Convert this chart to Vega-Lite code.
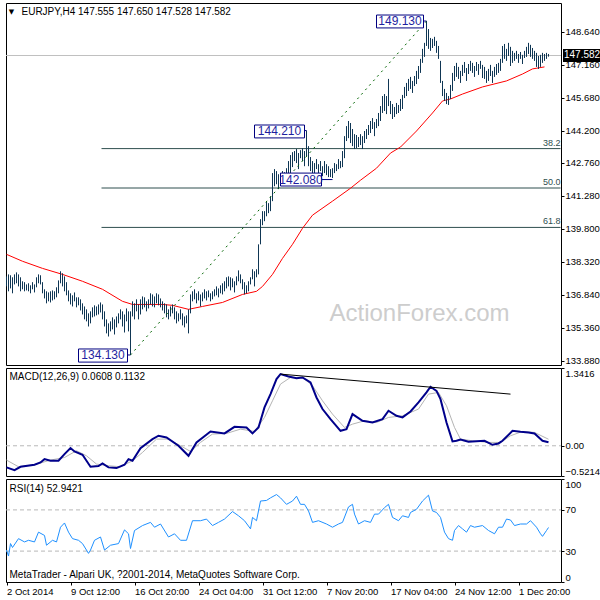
{
"$schema": "https://vega.github.io/schema/vega-lite/v6.json",
"padding": {"left": 2, "top": 2, "right": 0, "bottom": 0},
"background": "white",
"spacing": 3,
"bounds": "flush",
"config": {
 "view": {"stroke": "#000000", "strokeWidth": 1},
 "axis": {"labelFont": "Liberation Sans", "labelFontSize": 9.5, "labelColor": "#000000", "tickColor": "#000000", "domain": false, "grid": false, "labelOverlap": false, "tickSize": 3, "labelPadding": 1},
 "text": {"font": "Liberation Sans"}
},
"datasets": {
 "bars": [
{"i":0,"h":137.66,"l":137.21},{"i":1,"h":137.75,"l":136.99},{"i":2,"h":137.71,"l":137.12},{"i":3,"h":137.62,"l":136.90},{"i":4,"h":137.75,"l":137.30},{"i":5,"h":137.84,"l":137.35},{"i":6,"h":137.75,"l":137.21},{"i":7,"h":137.62,"l":136.99},{"i":8,"h":137.44,"l":137.08},{"i":9,"h":137.40,"l":136.99},
{"i":10,"h":137.30,"l":137.03},{"i":11,"h":137.35,"l":136.99},{"i":12,"h":137.26,"l":136.90},{"i":13,"h":137.40,"l":137.08},{"i":14,"h":137.30,"l":136.94},{"i":15,"h":137.62,"l":137.17},{"i":16,"h":137.75,"l":137.35},{"i":17,"h":137.71,"l":137.30},{"i":18,"h":137.40,"l":136.90},{"i":19,"h":137.08,"l":136.67},
{"i":20,"h":136.99,"l":136.45},{"i":21,"h":136.94,"l":136.54},{"i":22,"h":136.99,"l":136.49},{"i":23,"h":137.03,"l":136.58},{"i":24,"h":136.99,"l":136.63},{"i":25,"h":137.17,"l":136.72},{"i":26,"h":137.48,"l":136.90},{"i":27,"h":137.89,"l":137.35},{"i":28,"h":137.80,"l":137.21},{"i":29,"h":137.66,"l":136.99},
{"i":30,"h":137.40,"l":136.81},{"i":31,"h":137.03,"l":136.54},{"i":32,"h":136.90,"l":136.40},{"i":33,"h":136.81,"l":136.31},{"i":34,"h":136.94,"l":136.54},{"i":35,"h":136.72,"l":136.27},{"i":36,"h":136.72,"l":136.36},{"i":37,"h":136.63,"l":136.13},{"i":38,"h":136.45,"l":135.95},{"i":39,"h":136.31,"l":135.73},
{"i":40,"h":136.18,"l":135.64},{"i":41,"h":136.00,"l":135.41},{"i":42,"h":136.09,"l":135.55},{"i":43,"h":136.27,"l":135.82},{"i":44,"h":136.36,"l":135.86},{"i":45,"h":136.31,"l":135.91},{"i":46,"h":136.40,"l":135.95},{"i":47,"h":136.49,"l":136.04},{"i":48,"h":136.40,"l":135.73},{"i":49,"h":136.09,"l":135.41},
{"i":50,"h":135.73,"l":135.10},{"i":51,"h":135.55,"l":134.96},{"i":52,"h":135.64,"l":135.19},{"i":53,"h":135.82,"l":135.28},{"i":54,"h":135.73,"l":135.05},{"i":55,"h":135.86,"l":135.37},{"i":56,"h":136.00,"l":135.55},{"i":57,"h":136.18,"l":135.73},{"i":58,"h":136.09,"l":135.41},{"i":59,"h":135.95,"l":135.14},
{"i":60,"h":136.22,"l":135.64},{"i":61,"h":136.09,"l":135.19},{"i":62,"h":136.09,"l":134.13},{"i":63,"h":136.54,"l":135.86},{"i":64,"h":136.45,"l":135.73},{"i":65,"h":136.63,"l":136.09},{"i":66,"h":136.40,"l":135.73},{"i":67,"h":136.63,"l":135.95},{"i":68,"h":136.76,"l":136.18},{"i":69,"h":136.72,"l":136.27},
{"i":70,"h":136.54,"l":136.09},{"i":71,"h":136.63,"l":136.22},{"i":72,"h":136.90,"l":136.40},{"i":73,"h":136.85,"l":136.31},{"i":74,"h":136.76,"l":136.27},{"i":75,"h":136.90,"l":136.45},{"i":76,"h":136.85,"l":136.36},{"i":77,"h":136.67,"l":136.27},{"i":78,"h":136.54,"l":136.13},{"i":79,"h":136.45,"l":136.00},
{"i":80,"h":136.40,"l":135.82},{"i":81,"h":136.18,"l":135.73},{"i":82,"h":136.31,"l":135.86},{"i":83,"h":136.40,"l":136.00},{"i":84,"h":136.27,"l":135.73},{"i":85,"h":136.09,"l":135.55},{"i":86,"h":136.00,"l":135.64},{"i":87,"h":136.18,"l":135.73},{"i":88,"h":136.00,"l":135.46},{"i":89,"h":135.86,"l":135.37},
{"i":90,"h":135.91,"l":135.55},{"i":91,"h":136.18,"l":135.10},{"i":92,"h":136.85,"l":136.00},{"i":93,"h":136.99,"l":136.54},{"i":94,"h":137.08,"l":136.63},{"i":95,"h":136.90,"l":136.45},{"i":96,"h":136.99,"l":136.58},{"i":97,"h":136.85,"l":136.31},{"i":98,"h":136.94,"l":136.54},{"i":99,"h":137.08,"l":136.67},
{"i":100,"h":136.99,"l":136.58},{"i":101,"h":137.03,"l":136.72},{"i":102,"h":136.90,"l":136.54},{"i":103,"h":136.99,"l":136.63},{"i":104,"h":137.08,"l":136.76},{"i":105,"h":137.21,"l":136.81},{"i":106,"h":137.12,"l":136.72},{"i":107,"h":137.26,"l":136.90},{"i":108,"h":137.35,"l":136.85},{"i":109,"h":137.44,"l":136.99},
{"i":110,"h":137.62,"l":137.12},{"i":111,"h":137.66,"l":137.21},{"i":112,"h":137.62,"l":137.03},{"i":113,"h":137.57,"l":137.17},{"i":114,"h":137.44,"l":136.94},{"i":115,"h":137.66,"l":137.26},{"i":116,"h":137.93,"l":137.44},{"i":117,"h":137.75,"l":137.35},{"i":118,"h":137.53,"l":137.08},{"i":119,"h":137.40,"l":136.85},
{"i":120,"h":137.26,"l":136.90},{"i":121,"h":137.44,"l":136.99},{"i":122,"h":137.62,"l":137.30},{"i":123,"h":137.98,"l":137.53},{"i":124,"h":137.89,"l":137.21},{"i":125,"h":137.98,"l":137.62},{"i":126,"h":139.10,"l":137.75},{"i":127,"h":140.23,"l":139.10},{"i":128,"h":140.59,"l":139.96},{"i":129,"h":140.59,"l":140.14},
{"i":130,"h":141.04,"l":140.36},{"i":131,"h":140.95,"l":140.50},{"i":132,"h":141.26,"l":140.59},{"i":133,"h":142.30,"l":141.04},{"i":134,"h":142.48,"l":141.71},{"i":135,"h":142.39,"l":141.80},{"i":136,"h":142.25,"l":141.58},{"i":137,"h":142.30,"l":141.94},{"i":138,"h":142.39,"l":142.03},{"i":139,"h":142.34,"l":141.85},
{"i":140,"h":142.52,"l":141.94},{"i":141,"h":142.84,"l":142.07},{"i":142,"h":143.11,"l":142.30},{"i":143,"h":143.24,"l":142.57},{"i":144,"h":143.29,"l":142.84},{"i":145,"h":143.38,"l":142.75},{"i":146,"h":143.20,"l":142.48},{"i":147,"h":143.33,"l":142.97},{"i":148,"h":143.42,"l":142.84},{"i":149,"h":143.29,"l":142.61},
{"i":150,"h":144.21,"l":143.06},{"i":151,"h":143.51,"l":142.61},{"i":152,"h":143.02,"l":142.39},{"i":153,"h":142.84,"l":142.16},{"i":154,"h":142.75,"l":142.25},{"i":155,"h":142.93,"l":142.48},{"i":156,"h":142.70,"l":142.12},{"i":157,"h":142.84,"l":142.39},{"i":158,"h":142.61,"l":142.16},{"i":159,"h":142.84,"l":142.30},
{"i":160,"h":142.70,"l":142.21},{"i":161,"h":142.61,"l":142.12},{"i":162,"h":142.48,"l":142.12},{"i":163,"h":142.52,"l":142.08},{"i":164,"h":142.75,"l":142.30},{"i":165,"h":142.70,"l":142.39},{"i":166,"h":142.93,"l":142.48},{"i":167,"h":142.84,"l":142.52},{"i":168,"h":143.29,"l":142.57},{"i":169,"h":143.96,"l":142.97},
{"i":170,"h":144.41,"l":143.74},{"i":171,"h":144.64,"l":143.87},{"i":172,"h":144.55,"l":143.65},{"i":173,"h":144.28,"l":143.51},{"i":174,"h":144.05,"l":143.38},{"i":175,"h":144.01,"l":143.42},{"i":176,"h":143.92,"l":143.47},{"i":177,"h":144.05,"l":143.56},{"i":178,"h":143.96,"l":143.38},{"i":179,"h":144.19,"l":143.65},
{"i":180,"h":144.28,"l":143.83},{"i":181,"h":144.46,"l":144.01},{"i":182,"h":144.64,"l":144.10},{"i":183,"h":144.77,"l":144.28},{"i":184,"h":144.59,"l":143.96},{"i":185,"h":144.73,"l":144.32},{"i":186,"h":145.00,"l":144.41},{"i":187,"h":145.31,"l":144.64},{"i":188,"h":145.76,"l":145.00},{"i":189,"h":145.85,"l":145.09},
{"i":190,"h":145.76,"l":144.95},{"i":191,"h":146.53,"l":145.31},{"i":192,"h":145.54,"l":144.95},{"i":193,"h":145.40,"l":144.73},{"i":194,"h":145.27,"l":144.82},{"i":195,"h":145.45,"l":144.95},{"i":196,"h":145.36,"l":145.00},{"i":197,"h":145.63,"l":145.09},{"i":198,"h":145.81,"l":145.18},{"i":199,"h":146.17,"l":145.67},
{"i":200,"h":146.35,"l":145.76},{"i":201,"h":146.53,"l":145.99},{"i":202,"h":146.62,"l":146.08},{"i":203,"h":146.44,"l":145.90},{"i":204,"h":146.66,"l":146.21},{"i":205,"h":146.89,"l":146.30},{"i":206,"h":147.11,"l":146.53},{"i":207,"h":147.43,"l":146.80},{"i":208,"h":147.88,"l":147.25},{"i":209,"h":148.15,"l":147.52},
{"i":210,"h":149.13,"l":148.01},{"i":211,"h":148.77,"l":147.88},{"i":212,"h":148.37,"l":147.79},{"i":213,"h":148.33,"l":147.92},{"i":214,"h":148.42,"l":148.01},{"i":215,"h":148.24,"l":147.70},{"i":216,"h":148.01,"l":147.43},{"i":217,"h":147.34,"l":146.35},{"i":218,"h":146.44,"l":145.76},{"i":219,"h":146.08,"l":145.54},
{"i":220,"h":145.90,"l":145.40},{"i":221,"h":145.76,"l":145.36},{"i":222,"h":146.26,"l":145.63},{"i":223,"h":146.80,"l":145.99},{"i":224,"h":147.11,"l":146.44},{"i":225,"h":147.25,"l":146.62},{"i":226,"h":147.07,"l":146.53},{"i":227,"h":146.89,"l":146.35},{"i":228,"h":147.16,"l":146.66},{"i":229,"h":147.29,"l":146.80},
{"i":230,"h":147.02,"l":146.44},{"i":231,"h":147.20,"l":146.75},{"i":232,"h":147.34,"l":146.89},{"i":233,"h":147.25,"l":146.80},{"i":234,"h":147.11,"l":146.62},{"i":235,"h":147.29,"l":146.89},{"i":236,"h":147.20,"l":146.71},{"i":237,"h":147.34,"l":146.98},{"i":238,"h":147.16,"l":146.57},{"i":239,"h":147.07,"l":146.53},
{"i":240,"h":146.89,"l":146.35},{"i":241,"h":146.98,"l":146.44},{"i":242,"h":147.16,"l":146.66},{"i":243,"h":146.89,"l":146.35},{"i":244,"h":147.07,"l":146.62},{"i":245,"h":147.20,"l":146.71},{"i":246,"h":147.25,"l":146.80},{"i":247,"h":147.43,"l":146.89},{"i":248,"h":148.01,"l":147.25},{"i":249,"h":148.10,"l":147.43},
{"i":250,"h":147.88,"l":147.34},{"i":251,"h":148.15,"l":147.56},{"i":252,"h":147.97,"l":147.11},{"i":253,"h":147.79,"l":147.25},{"i":254,"h":147.70,"l":147.34},{"i":255,"h":147.79,"l":147.43},{"i":256,"h":147.65,"l":147.25},{"i":257,"h":147.74,"l":147.43},{"i":258,"h":147.61,"l":147.20},{"i":259,"h":147.79,"l":147.47},
{"i":260,"h":147.97,"l":147.52},{"i":261,"h":148.15,"l":147.65},{"i":262,"h":148.06,"l":147.52},{"i":263,"h":147.92,"l":147.43},{"i":264,"h":147.79,"l":147.34},{"i":265,"h":147.70,"l":147.07},{"i":266,"h":147.56,"l":146.98},{"i":267,"h":147.61,"l":147.07},{"i":268,"h":147.70,"l":147.25},{"i":269,"h":147.65,"l":147.34},
{"i":270,"h":147.70,"l":147.43},{"i":271,"h":147.65,"l":147.53}
 ],
 "ma": [
{"i":0,"v":138.65},{"i":8,"v":138.34},{"i":18,"v":138.02},{"i":28,"v":137.75},{"i":38,"v":137.44},{"i":48,"v":137.08},{"i":58,"v":136.54},{"i":63,"v":136.40},{"i":78,"v":136.40},{"i":83,"v":136.36},{"i":91,"v":136.18},{"i":98,"v":136.31},{"i":108,"v":136.49},{"i":118,"v":136.85},{"i":125,"v":136.99},{"i":128,"v":137.21},{"i":133,"v":137.75},{"i":138,"v":138.47},{"i":143,"v":139.10},{"i":148,"v":139.82},{"i":153,"v":140.41},{"i":163,"v":141.04},{"i":172,"v":141.62},{"i":177,"v":141.98},{"i":185,"v":142.52},{"i":192,"v":143.20},{"i":197,"v":143.47},{"i":205,"v":144.19},{"i":213,"v":145.00},{"i":218,"v":145.54},{"i":222,"v":145.63},{"i":228,"v":145.85},{"i":238,"v":146.17},{"i":250,"v":146.44},{"i":258,"v":146.75},{"i":263,"v":146.98},{"i":269,"v":147.07}
 ],
 "trend": [{"i":62,"p":134.13},{"i":210,"p":149.13}],
 "fib": [
  {"t":"38.2","a":47.5,"b":277,"v":143.40},
  {"t":"50.0","a":47.5,"b":277,"v":141.63},
  {"t":"61.8","a":47.5,"b":277,"v":139.86}
 ],
 "cur": [{"a":-0.25,"b":277.25,"p":147.582,"t":"147.582","bx":278.25,"bx2":297.5,"lo":147.29,"hi":147.87,"tx":278.75}],
 "lbl": [
  {"t":"134.130","a":36,"b":60.5,"lo":133.81,"hi":134.40,"c":48.25,"m":134.11,"k":62,"p":134.13},
  {"t":"149.130","a":185,"b":208.5,"lo":148.82,"hi":149.40,"c":196.75,"m":149.11,"k":210,"p":149.13},
  {"t":"144.210","a":124,"b":149,"lo":143.88,"hi":144.46,"c":136.5,"m":144.17,"k":150,"p":144.21},
  {"t":"142.080","a":137,"b":157.5,"lo":141.72,"hi":142.30,"c":147.25,"m":142.01,"k":163,"p":142.01}
 ],
 "wm": [{"i":206.5,"p":135.97,"t":"ActionForex.com"}],
 "tri": [{"i":2.5,"p":149.54,"t":"▼"}],
 "ttl": [{"i":7.5,"p":149.54,"t":"EURJPY,H4  147.555 147.650 147.528 147.582"}],
 "macd": [
{"i":0,"m":-0.373},{"i":4,"m":-0.420},{"i":7,"m":-0.362},{"i":14,"m":-0.327},{"i":17,"m":-0.287},{"i":19,"m":-0.230},{"i":22,"m":-0.258},{"i":26,"m":-0.258},{"i":29,"m":-0.144},{"i":32,"m":-0.040},{"i":34,"m":-0.098},{"i":38,"m":-0.156},{"i":42,"m":-0.362},{"i":46,"m":-0.350},{"i":48,"m":-0.304},{"i":51,"m":-0.373},{"i":55,"m":-0.385},{"i":59,"m":-0.327},{"i":61,"m":-0.230},{"i":63,"m":-0.258},{"i":67,"m":-0.040},{"i":73,"m":0.115},{"i":76,"m":0.173},{"i":80,"m":0.144},{"i":86,"m":0.000},{"i":91,"m":-0.173},{"i":95,"m":0.058},{"i":102,"m":0.247},{"i":109,"m":0.213},{"i":114,"m":0.327},{"i":120,"m":0.316},{"i":123,"m":0.213},{"i":126,"m":0.316},{"i":129,"m":0.661},{"i":132,"m":0.891},{"i":135,"m":1.150},{"i":137,"m":1.236},{"i":141,"m":1.196},{"i":145,"m":1.167},{"i":148,"m":1.179},{"i":152,"m":1.092},{"i":155,"m":0.833},{"i":158,"m":0.633},{"i":162,"m":0.460},{"i":167,"m":0.258},{"i":170,"m":0.287},{"i":173,"m":0.546},{"i":178,"m":0.431},{"i":183,"m":0.402},{"i":188,"m":0.460},{"i":191,"m":0.604},{"i":195,"m":0.517},{"i":198,"m":0.489},{"i":202,"m":0.592},{"i":206,"m":0.747},{"i":210,"m":0.920},{"i":212,"m":1.018},{"i":215,"m":0.948},{"i":217,"m":0.804},{"i":220,"m":0.402},{"i":223,"m":0.075},{"i":225,"m":0.086},{"i":227,"m":0.109},{"i":231,"m":0.069},{"i":239,"m":0.086},{"i":243,"m":0.017},{"i":246,"m":0.040},{"i":248,"m":0.086},{"i":253,"m":0.258},{"i":257,"m":0.241},{"i":261,"m":0.230},{"i":264,"m":0.213},{"i":268,"m":0.086},{"i":271,"m":0.061}
 ],
 "sig": [
{"i":0,"s":-0.247},{"i":6,"s":-0.362},{"i":14,"s":-0.327},{"i":22,"s":-0.247},{"i":29,"s":-0.202},{"i":35,"s":-0.086},{"i":40,"s":-0.173},{"i":45,"s":-0.316},{"i":51,"s":-0.345},{"i":57,"s":-0.362},{"i":63,"s":-0.258},{"i":68,"s":-0.115},{"i":75,"s":0.115},{"i":81,"s":0.115},{"i":87,"s":0.000},{"i":92,"s":-0.098},{"i":97,"s":0.058},{"i":103,"s":0.202},{"i":110,"s":0.213},{"i":117,"s":0.287},{"i":124,"s":0.247},{"i":129,"s":0.489},{"i":133,"s":0.776},{"i":137,"s":1.064},{"i":142,"s":1.179},{"i":148,"s":1.179},{"i":153,"s":1.035},{"i":158,"s":0.776},{"i":163,"s":0.546},{"i":169,"s":0.316},{"i":173,"s":0.373},{"i":179,"s":0.431},{"i":185,"s":0.402},{"i":191,"s":0.489},{"i":198,"s":0.517},{"i":206,"s":0.633},{"i":211,"s":0.891},{"i":216,"s":0.920},{"i":220,"s":0.690},{"i":224,"s":0.316},{"i":227,"s":0.115},{"i":233,"s":0.086},{"i":241,"s":0.058},{"i":247,"s":0.058},{"i":252,"s":0.173},{"i":258,"s":0.247},{"i":264,"s":0.230},{"i":271,"s":0.113}
 ],
 "mtrend": [{"i":137,"m":1.236},{"i":252,"m":0.891}],
 "mzero": [{"a":-0.25,"b":277.25,"v":0}],
 "mtxt": [{"i":1.5,"v":1.186,"t":"MACD(12,26,9) 0.0608 0.1132"}],
 "rsi": [
{"i":0,"r":31.0},{"i":1,"r":25.2},{"i":2,"r":37.3},{"i":3,"r":33.5},{"i":6,"r":42.1},{"i":9,"r":38.9},{"i":11,"r":40.5},{"i":14,"r":38.9},{"i":16,"r":48.4},{"i":19,"r":45.2},{"i":20,"r":35.7},{"i":23,"r":40.5},{"i":25,"r":38.9},{"i":27,"r":53.2},{"i":29,"r":57.3},{"i":31,"r":48.4},{"i":33,"r":42.1},{"i":36,"r":40.5},{"i":38,"r":37.3},{"i":41,"r":27.8},{"i":42,"r":31.0},{"i":44,"r":40.5},{"i":47,"r":43.7},{"i":49,"r":31.0},{"i":52,"r":35.7},{"i":56,"r":37.3},{"i":59,"r":50.6},{"i":61,"r":46.8},{"i":62,"r":32.5},{"i":64,"r":50.0},{"i":68,"r":54.8},{"i":72,"r":57.9},{"i":74,"r":53.2},{"i":77,"r":56.3},{"i":81,"r":43.7},{"i":84,"r":46.8},{"i":87,"r":40.5},{"i":90,"r":40.5},{"i":93,"r":59.5},{"i":97,"r":59.5},{"i":100,"r":61.1},{"i":103,"r":54.8},{"i":106,"r":57.9},{"i":109,"r":61.1},{"i":113,"r":68.4},{"i":116,"r":64.3},{"i":119,"r":59.5},{"i":122,"r":51.6},{"i":123,"r":62.7},{"i":125,"r":59.5},{"i":127,"r":78.6},{"i":130,"r":79.2},{"i":132,"r":81.7},{"i":135,"r":84.9},{"i":137,"r":81.7},{"i":140,"r":75.4},{"i":143,"r":78.6},{"i":145,"r":83.3},{"i":147,"r":75.4},{"i":149,"r":75.4},{"i":151,"r":69.0},{"i":153,"r":57.9},{"i":156,"r":59.5},{"i":160,"r":56.3},{"i":163,"r":53.2},{"i":166,"r":56.3},{"i":168,"r":57.9},{"i":171,"r":72.9},{"i":173,"r":75.4},{"i":174,"r":65.9},{"i":176,"r":56.3},{"i":179,"r":59.5},{"i":182,"r":57.9},{"i":184,"r":65.9},{"i":186,"r":65.9},{"i":189,"r":72.2},{"i":191,"r":75.4},{"i":193,"r":62.7},{"i":196,"r":59.5},{"i":198,"r":64.3},{"i":201,"r":62.7},{"i":202,"r":67.5},{"i":205,"r":70.6},{"i":208,"r":78.6},{"i":211,"r":84.3},{"i":213,"r":69.0},{"i":215,"r":67.5},{"i":217,"r":62.7},{"i":219,"r":48.4},{"i":221,"r":42.1},{"i":223,"r":40.5},{"i":224,"r":50.0},{"i":226,"r":54.8},{"i":228,"r":51.6},{"i":230,"r":48.4},{"i":232,"r":54.8},{"i":234,"r":53.2},{"i":238,"r":54.8},{"i":241,"r":50.0},{"i":244,"r":46.8},{"i":246,"r":53.2},{"i":248,"r":53.2},{"i":250,"r":61.1},{"i":252,"r":60.2},{"i":254,"r":54.8},{"i":257,"r":56.3},{"i":260,"r":56.3},{"i":262,"r":59.5},{"i":265,"r":53.2},{"i":267,"r":46.8},{"i":268,"r":44.3},{"i":270,"r":50.0},{"i":271,"r":52.9}
 ],
 "rlev": [{"a":-0.25,"b":277.25,"v":70},{"a":-0.25,"b":277.25,"v":30}],
 "rtxt": [{"i":1.5,"v":90.4,"t":"RSI(14) 52.9421"},{"i":1.5,"v":6.7,"t":"MetaTrader - Alpari UK, ?2001-2014, MetaQuotes Software Corp."}]
},
"vconcat": [
 {
  "width": 555, "height": 362,
  "layer": [
   {"data": {"name": "wm"}, "mark": {"type": "text", "fontSize": 24, "color": "#cdcdcd", "align": "center", "baseline": "middle"},
    "encoding": {
     "x": {"field": "i", "type": "quantitative", "scale": {"domain": [-0.25, 277.25], "nice": false, "zero": false}, "axis": null},
     "y": {"field": "p", "type": "quantitative", "title": null, "scale": {"domain": [133.68, 149.94], "nice": false, "zero": false},
           "axis": {"orient": "right", "values": [133.88, 135.36, 136.84, 138.32, 139.8, 141.28, 142.76, 144.2, 145.68, 147.16, 148.64], "format": ".3f", "tickCount": 30}},
     "text": {"field": "t"}}},
   {"data": {"name": "fib"}, "mark": {"type": "rule", "color": "#2f4f4f", "strokeWidth": 1},
    "encoding": {"x": {"field": "a", "type": "quantitative", "axis": null}, "x2": {"field": "b"}, "y": {"field": "v", "type": "quantitative", "title": null, "axis": {"orient": "right"}}}},
   {"data": {"name": "cur"}, "mark": {"type": "rule", "color": "#c0c0c0", "strokeWidth": 1},
    "encoding": {"x": {"field": "a", "type": "quantitative", "axis": null}, "x2": {"field": "b"}, "y": {"field": "p", "type": "quantitative", "title": null, "axis": {"orient": "right"}}}},
   {"data": {"name": "ma"}, "mark": {"type": "line", "color": "#ff0000", "strokeWidth": 1},
    "encoding": {"x": {"field": "i", "type": "quantitative", "axis": null}, "y": {"field": "v", "type": "quantitative", "title": null, "axis": {"orient": "right"}}}},
   {"data": {"name": "bars"}, "mark": {"type": "rule", "color": "#0f3654", "strokeWidth": 1},
    "encoding": {"x": {"field": "i", "type": "quantitative", "axis": null}, "y": {"field": "l", "type": "quantitative", "title": null, "axis": {"orient": "right"}}, "y2": {"field": "h"}}},
   {"data": {"name": "trend"}, "mark": {"type": "line", "color": "#006400", "strokeWidth": 1, "strokeDash": [2, 4]},
    "encoding": {"x": {"field": "i", "type": "quantitative", "axis": null}, "y": {"field": "p", "type": "quantitative", "title": null, "axis": {"orient": "right"}}}},
   {"data": {"name": "lbl"}, "mark": {"type": "rule", "color": "#000080", "strokeWidth": 1},
    "encoding": {"x": {"field": "b", "type": "quantitative", "axis": null}, "x2": {"field": "k"}, "y": {"field": "p", "type": "quantitative", "title": null, "axis": {"orient": "right"}}}},
   {"data": {"name": "lbl"}, "mark": {"type": "rect", "fill": "#ffffff", "stroke": "#000080", "strokeWidth": 1},
    "encoding": {"x": {"field": "a", "type": "quantitative", "axis": null}, "x2": {"field": "b"}, "y": {"field": "lo", "type": "quantitative", "title": null, "axis": {"orient": "right"}}, "y2": {"field": "hi"}}},
   {"data": {"name": "lbl"}, "mark": {"type": "text", "fontSize": 12, "color": "#1f1fa0", "align": "center", "baseline": "middle"},
    "encoding": {"x": {"field": "c", "type": "quantitative", "axis": null}, "y": {"field": "m", "type": "quantitative", "title": null, "axis": {"orient": "right"}}, "text": {"field": "t"}}},
   {"data": {"name": "fib"}, "mark": {"type": "text", "fontSize": 9, "color": "#2f4f4f", "align": "right", "baseline": "bottom", "dy": -1},
    "encoding": {"x": {"field": "b", "type": "quantitative", "axis": null}, "y": {"field": "v", "type": "quantitative", "title": null, "axis": {"orient": "right"}}, "text": {"field": "t"}}},
   {"data": {"name": "tri"}, "mark": {"type": "text", "font": "DejaVu Sans", "fontSize": 7, "color": "#000000", "align": "center", "baseline": "middle"},
    "encoding": {"x": {"field": "i", "type": "quantitative", "axis": null}, "y": {"field": "p", "type": "quantitative", "title": null, "axis": {"orient": "right"}}, "text": {"field": "t"}}},
   {"data": {"name": "ttl"}, "mark": {"type": "text", "fontSize": 10, "color": "#000000", "align": "left", "baseline": "middle"},
    "encoding": {"x": {"field": "i", "type": "quantitative", "axis": null}, "y": {"field": "p", "type": "quantitative", "title": null, "axis": {"orient": "right"}}, "text": {"field": "t"}}},
   {"data": {"name": "cur"}, "mark": {"type": "rect", "fill": "#000000"},
    "encoding": {"x": {"field": "bx", "type": "quantitative", "axis": null}, "x2": {"field": "bx2"}, "y": {"field": "lo", "type": "quantitative", "title": null, "axis": {"orient": "right"}}, "y2": {"field": "hi"}}},
   {"data": {"name": "cur"}, "mark": {"type": "text", "fontSize": 10, "color": "#ffffff", "align": "left", "baseline": "middle"},
    "encoding": {"x": {"field": "tx", "type": "quantitative", "axis": null}, "y": {"field": "p", "type": "quantitative", "title": null, "axis": {"orient": "right"}}, "text": {"field": "t"}}}
  ]
 },
 {
  "width": 555, "height": 108,
  "layer": [
   {"data": {"name": "mzero"}, "mark": {"type": "rule", "color": "#b8b8b8", "strokeWidth": 1, "strokeDash": [4, 3]},
    "encoding": {
     "x": {"field": "a", "type": "quantitative", "scale": {"domain": [-0.25, 277.25], "nice": false, "zero": false}, "axis": null},
     "x2": {"field": "b"},
     "y": {"field": "v", "type": "quantitative", "title": null, "scale": {"domain": [-0.5214, 1.3416], "nice": false, "zero": false},
           "axis": {"orient": "right", "values": [-0.5214, 0, 1.3416], "labelExpr": "datum.value == 0 ? '0.00' : format(datum.value, '.4f')", "labelFlush": true, "tickCount": 30}}}},
   {"data": {"name": "sig"}, "mark": {"type": "line", "color": "#b4b4b4", "strokeWidth": 1},
    "encoding": {"x": {"field": "i", "type": "quantitative", "axis": null}, "y": {"field": "s", "type": "quantitative", "title": null, "axis": {"orient": "right"}}}},
   {"data": {"name": "macd"}, "mark": {"type": "line", "color": "#00008b", "strokeWidth": 2},
    "encoding": {"x": {"field": "i", "type": "quantitative", "axis": null}, "y": {"field": "m", "type": "quantitative", "title": null, "axis": {"orient": "right"}}}},
   {"data": {"name": "mtrend"}, "mark": {"type": "line", "color": "#000000", "strokeWidth": 1},
    "encoding": {"x": {"field": "i", "type": "quantitative", "axis": null}, "y": {"field": "m", "type": "quantitative", "title": null, "axis": {"orient": "right"}}}},
   {"data": {"name": "mtxt"}, "mark": {"type": "text", "fontSize": 10, "color": "#000000", "align": "left", "baseline": "middle"},
    "encoding": {"x": {"field": "i", "type": "quantitative", "axis": null}, "y": {"field": "v", "type": "quantitative", "title": null, "axis": {"orient": "right"}}, "text": {"field": "t"}}}
  ]
 },
 {
  "width": 555, "height": 103,
  "layer": [
   {"data": {"name": "rlev"}, "mark": {"type": "rule", "color": "#b8b8b8", "strokeWidth": 1, "strokeDash": [4, 3]},
    "encoding": {
     "x": {"field": "a", "type": "quantitative", "title": null, "scale": {"domain": [-0.25, 277.25], "nice": false, "zero": false},
           "axis": {"orient": "bottom", "values": [0, 32, 64, 96, 128, 160, 192, 224, 256], "tickCount": 30, "labelExpr": "['2 Oct 2014','9 Oct 12:00','16 Oct 20:00','24 Oct 04:00','31 Oct 12:00','7 Nov 20:00','17 Nov 04:00','24 Nov 12:00','1 Dec 20:00'][round(datum.value/32)]", "labelAlign": "left", "labelFlush": false, "labelBaseline": "top"}},
     "x2": {"field": "b"},
     "y": {"field": "v", "type": "quantitative", "title": null, "scale": {"domain": [0, 100], "nice": false, "zero": false},
           "axis": {"orient": "right", "values": [0, 30, 70, 100], "labelFlush": true, "tickCount": 30}}}},
   {"data": {"name": "rsi"}, "mark": {"type": "line", "color": "#1e90ff", "strokeWidth": 1},
    "encoding": {"x": {"field": "i", "type": "quantitative", "title": null, "axis": {"orient": "bottom"}}, "y": {"field": "r", "type": "quantitative", "title": null, "axis": {"orient": "right"}}}},
   {"data": {"name": "rtxt"}, "mark": {"type": "text", "fontSize": 10, "color": "#000000", "align": "left", "baseline": "middle"},
    "encoding": {"x": {"field": "i", "type": "quantitative", "title": null, "axis": {"orient": "bottom"}}, "y": {"field": "v", "type": "quantitative", "title": null, "axis": {"orient": "right"}}, "text": {"field": "t"}}}
  ]
 }
]
}
